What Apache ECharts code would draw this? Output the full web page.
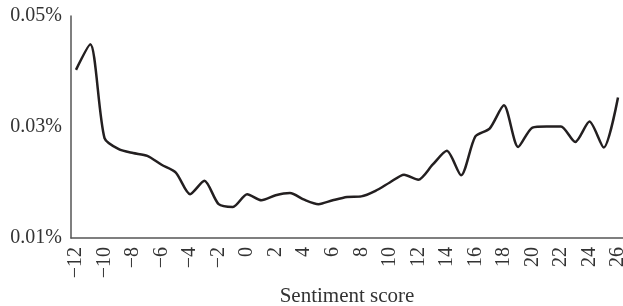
<!DOCTYPE html>
<html>
<head>
<meta charset="utf-8">
<script src="https://cdn.jsdelivr.net/npm/echarts@6/dist/echarts.min.js"></script>
<style>
  html, body { margin: 0; padding: 0; background: #fff; }
  #chart { width: 623px; height: 306px; }
</style>
</head>
<body>
<div id="chart"></div>
<script>
// sentiment score bins
var scores = [-12, -11, -10, -9, -8, -7, -6, -5, -4, -3, -2, -1, 0, 1, 2, 3, 4, 5, 6, 7,
    8, 9, 10, 11, 12, 13, 14, 15, 16, 17, 18, 19, 20, 21, 22, 23, 24, 25, 26];
// share, in percent
var shares = [0.0403, 0.0449, 0.0280, 0.0260, 0.0253, 0.0248, 0.0232, 0.0218, 0.0179, 0.0203,
    0.0161, 0.0156, 0.0179, 0.0168, 0.0177, 0.0181, 0.0169, 0.0161, 0.0168, 0.0174,
    0.0175, 0.0185, 0.0200, 0.0214, 0.0205, 0.0232, 0.0257, 0.0213, 0.0283, 0.0297,
    0.0339, 0.0264, 0.0299, 0.0301, 0.0301, 0.0273, 0.0310, 0.0263, 0.0353];
var yTicks = [0.01, 0.03, 0.05];

var font = 'Liberation Serif';
var chart = echarts.init(document.getElementById('chart'));

var points = scores.map(function (s, i) {
    return [s, shares[i]];
});

var option = {
    animation: false,
    textStyle: {fontFamily: font},
    grid: {left: 71, right: 0, top: 16, bottom: 68, outerBoundsMode: 'none'},
    xAxis: {
        type: 'value',
        min: -12.35,
        max: 26.35,
        splitNumber: 19,
        name: 'Sentiment score',
        nameLocation: 'middle',
        nameGap: 48,
        nameTextStyle: {fontFamily: font, fontSize: 21, color: '#333'},
        axisLine: {lineStyle: {color: '#555', width: 1.5}},
        axisTick: {show: false},
        splitLine: {show: false},
        axisLabel: {
            rotate: 90,
            margin: 9,
            fontFamily: font,
            fontSize: 20,
            color: '#333',
            showMinLabel: false,
            showMaxLabel: false,
            formatter: function (v) {
                if (Math.abs(v - Math.round(v)) > 1e-6 || Math.round(v) % 2 !== 0) return '';
                return String(Math.round(v)).replace('-', '\u2212');
            }
        }
    },
    yAxis: {
        type: 'value',
        min: 0.01,
        max: 0.05,
        interval: 0.01,
        axisLine: {show: true, onZero: false, lineStyle: {color: '#555', width: 1.5}},
        axisTick: {show: false},
        splitLine: {show: false},
        axisLabel: {
            margin: 9,
            fontFamily: font,
            fontSize: 20,
            color: '#333',
            formatter: function (v) {
                var hit = yTicks.some(function (t) { return Math.abs(t - v) < 1e-9; });
                return hit ? v.toFixed(2) + '%' : '';
            }
        }
    },
    series: [{
        type: 'line',
        data: points,
        smooth: 0.25,
        symbol: 'none',
        lineStyle: {color: '#231f20', width: 2.5}
    }]
};
chart.setOption(option);
</script>
</body>
</html>
